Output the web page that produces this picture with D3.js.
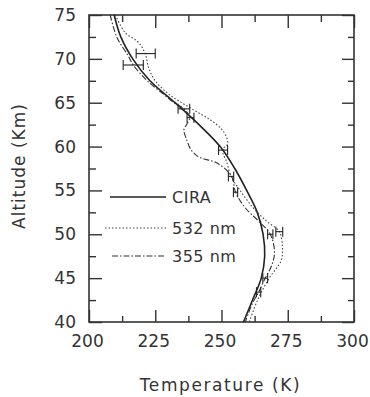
<!DOCTYPE html>
<html>
<head>
<meta charset="utf-8">
<script src="https://cdn.jsdelivr.net/npm/d3@7"></script>
<style>
  body { margin: 0; background: #fff; }
  text { font-family: "DejaVu Sans", sans-serif; fill: #333; }
</style>
</head>
<body>
<div id="chart"></div>
<script>
// data: altitude (km) and temperature (K)
var ciraAlt = [75, 72.5, 70, 67.5, 65, 62.5, 60, 57.5, 55, 52.5, 50, 47.5, 45, 42.5, 40];
var ciraTemp = [209.5, 212, 216.5, 223, 232.5, 241.5, 249.5, 255, 259.5, 263.5, 265.7, 266.3, 265, 261.7, 258.3];

var alt532 = [75, 73, 71.9, 70.6, 69, 67.5, 66, 65, 64, 63, 62, 61, 60.3, 59.6, 58.2, 56.6, 55, 53, 51.5, 50.3, 48.5, 47, 45, 42.5, 40];
var temp532 = [210, 213.6, 218.6, 221.2, 222.5, 225, 230, 235, 240.5, 246, 250, 252, 252.3, 250.4, 252, 253.6, 257, 262, 267, 271.8, 273, 272.5, 268, 263.6, 260.5];

var alt355 = [75, 72.4, 70.5, 69.3, 67.5, 66, 65, 64.3, 63.3, 62.5, 61.9, 61, 59.6, 58.8, 58.1, 56.6, 54.8, 53, 51.5, 50, 48, 46.5, 45, 43.4, 42, 40];
var temp355 = [208, 210.6, 214.5, 216.7, 222, 228, 232, 235.8, 238, 236.8, 235.8, 236.6, 238.6, 241.5, 248.5, 253.8, 255.3, 259, 264, 268.4, 270, 269, 266.5, 264, 261.5, 259];

// error bars (centre temperature, altitude, half width in K)
var barAlt = [69.3, 70.6, 64.3, 63.3, 59.6, 56.6, 54.8, 50, 50.3, 45, 43.4];
var barTemp = [216.7, 221.4, 235.8, 238.3, 250.6, 253.6, 255.3, 268.4, 271.8, 266.5, 264];
var barErr = [3.8, 3.6, 2.2, 1.3, 1.7, 1, 0.8, 1, 1.3, 0.9, 0.8];

var xTicks = [200, 225, 250, 275, 300];
var yTicks = [40, 45, 50, 55, 60, 65, 70, 75];
var legendNames = ["CIRA", "532 nm", "355 nm"];

//Define SVG area
var svgWidth = 370;
var svgHeight = 397;

var svg = d3.select("#chart")
    .append("svg")
    .attr("width", svgWidth)
    .attr("height", svgHeight);

var chartMargin = { top: 15, right: 16, bottom: 75, left: 89 };
var chartWidth = svgWidth - chartMargin.left - chartMargin.right;
var chartHeight = svgHeight - chartMargin.top - chartMargin.bottom;

var chartGroup = svg.append("g")
    .attr("transform", `translate(${chartMargin.left}, ${chartMargin.top})`);

var x = d3.scaleLinear().domain([200, 300]).range([0, chartWidth]);
var y = d3.scaleLinear().domain([40, 75]).range([chartHeight, 0]);

var xMinor = d3.range(212.5, 300, 25);
var yMinor = d3.range(42.5, 75, 5);

function styleAxis(g) {
    g.select(".domain").remove();
    g.selectAll("line").attr("stroke", "#333").attr("stroke-width", 1.4);
    g.selectAll("text").attr("font-size", "17px").attr("fill", "#333");
}

// bottom axis with labels, ticks pointing in
chartGroup.append("g")
    .attr("transform", `translate(0, ${chartHeight})`)
    .call(d3.axisBottom(x).tickValues(xTicks).tickSize(-12).tickPadding(13).tickFormat(d3.format("d")))
    .call(styleAxis)
    .selectAll("text").attr("dx", "-2");
chartGroup.append("g")
    .attr("transform", `translate(0, ${chartHeight})`)
    .call(d3.axisBottom(x).tickValues(xMinor).tickSize(-6).tickFormat(""))
    .call(styleAxis);

// top axis
chartGroup.append("g")
    .call(d3.axisTop(x).tickValues(xTicks).tickSize(-13).tickFormat(""))
    .call(styleAxis);
chartGroup.append("g")
    .call(d3.axisTop(x).tickValues(xMinor).tickSize(-7).tickFormat(""))
    .call(styleAxis);

// left axis with labels
chartGroup.append("g")
    .call(d3.axisLeft(y).tickValues(yTicks).tickSize(-13).tickPadding(13))
    .call(styleAxis);
chartGroup.append("g")
    .call(d3.axisLeft(y).tickValues(yMinor).tickSize(-7).tickFormat(""))
    .call(styleAxis);

// right axis
chartGroup.append("g")
    .attr("transform", `translate(${chartWidth}, 0)`)
    .call(d3.axisRight(y).tickValues(yTicks).tickSize(-12).tickFormat(""))
    .call(styleAxis);
chartGroup.append("g")
    .attr("transform", `translate(${chartWidth}, 0)`)
    .call(d3.axisRight(y).tickValues(yMinor).tickSize(-6).tickFormat(""))
    .call(styleAxis);

// frame
chartGroup.append("rect")
    .attr("width", chartWidth)
    .attr("height", chartHeight)
    .attr("fill", "none")
    .attr("stroke", "#333")
    .attr("stroke-width", 1.6);

var line = d3.line()
    .x(d => x(d[1]))
    .y(d => y(d[0]))
    .curve(d3.curveCatmullRom.alpha(0.5));

var series = [
    { alt: ciraAlt, temp: ciraTemp, dash: null, width: 1.6, color: "#222" },
    { alt: alt532, temp: temp532, dash: "1.5,2", width: 1.1, color: "#444" },
    { alt: alt355, temp: temp355, dash: "6,2,1.5,2", width: 1.1, color: "#333" }
];

series.forEach(function (s) {
    chartGroup.append("path")
        .datum(d3.zip(s.alt, s.temp))
        .attr("d", line)
        .attr("fill", "none")
        .attr("stroke", s.color)
        .attr("stroke-width", s.width)
        .attr("stroke-dasharray", s.dash);
});

// error bars
var bars = chartGroup.selectAll(".ebar")
    .data(d3.range(barAlt.length))
    .enter()
    .append("g")
    .attr("class", "ebar")
    .attr("stroke", "#222")
    .attr("stroke-width", 1.1);

bars.append("line")
    .attr("x1", i => x(barTemp[i] - barErr[i]))
    .attr("x2", i => x(barTemp[i] + barErr[i]))
    .attr("y1", i => y(barAlt[i]))
    .attr("y2", i => y(barAlt[i]));
[-1, 1].forEach(function (side) {
    bars.append("line")
        .attr("x1", i => x(barTemp[i] + side * barErr[i]))
        .attr("x2", i => x(barTemp[i] + side * barErr[i]))
        .attr("y1", i => y(barAlt[i]) - 5)
        .attr("y2", i => y(barAlt[i]) + 5);
});

// legend
var legendY = [197, 228, 256];
var legendX1 = [110, 105, 112];
var legend = svg.selectAll(".legend")
    .data(legendNames)
    .enter()
    .append("g")
    .attr("class", "legend");

legend.append("line")
    .attr("x1", (d, i) => legendX1[i])
    .attr("x2", 166)
    .attr("y1", (d, i) => legendY[i])
    .attr("y2", (d, i) => legendY[i])
    .attr("stroke", (d, i) => series[i].color)
    .attr("stroke-width", (d, i) => series[i].width)
    .attr("stroke-dasharray", (d, i) => series[i].dash);

legend.append("text")
    .attr("x", 172)
    .attr("y", (d, i) => legendY[i])
    .attr("dy", "0.35em")
    .attr("font-size", "16px")
    .attr("letter-spacing", "0.5px")
    .text(d => d);

// axis titles
svg.append("text")
    .attr("x", chartMargin.left + chartWidth / 2 - 1)
    .attr("y", 391)
    .attr("text-anchor", "middle")
    .attr("font-size", "17px")
    .attr("letter-spacing", "1.6px")
    .text("Temperature (K)");

svg.append("text")
    .attr("transform", "translate(25, 166) rotate(-90)")
    .attr("text-anchor", "middle")
    .attr("font-size", "17px")
    .attr("letter-spacing", "1px")
    .text("Altitude (Km)");
</script>
</body>
</html>
